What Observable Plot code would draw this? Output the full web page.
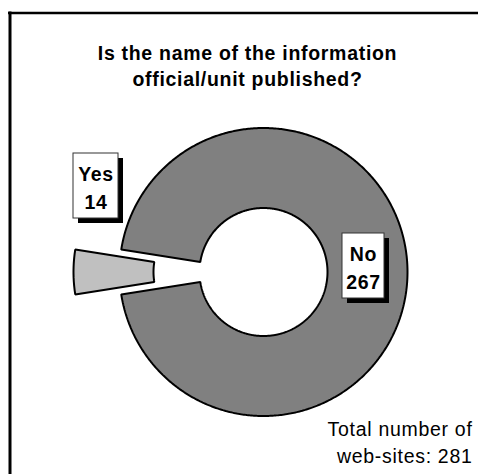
<!DOCTYPE html>
<html>
<head>
<meta charset="utf-8">
<script src="https://cdn.jsdelivr.net/npm/d3@7"></script>
<script src="https://cdn.jsdelivr.net/npm/@observablehq/plot@0.6"></script>
<style>
  html, body { margin: 0; padding: 0; background: white; overflow: hidden; }
  svg text { letter-spacing: 0.7px; }
</style>
</head>
<body>
<div id="chart"></div>
<script>
// ---- data ----
const categories = ["Yes", "No"];
const counts = [14, 267];
const total = 281;
const titleLines = ["Is the name of the information", "official/unit published?"];
const footerLines = ["Total number of", "web-sites: " + total];

// ---- layout (pixels) ----
const W = 478, H = 474;
const cx = 263, cy = 271.5, rOuter = 144, rInner = 64, explode = 46;
const fillColors = {Yes: "#c0c0c0", No: "#808080"};
const labelCenter = {Yes: [95.5, 185.5], No: [363, 265.5]};
const boxW = {Yes: 45, No: 42}, boxH = 65, shadow = 5;
const font = "Liberation Sans, Arial, Helvetica, sans-serif";
const fs = 19.5;

// build slice polygons from the counts (Yes centred at 9 o'clock)
const yesHalf = Math.PI * counts[0] / total;
const slices = [];
let a0 = Math.PI - yesHalf;
categories.forEach((c, i) => {
  const span = 2 * Math.PI * counts[i] / total;
  slices.push({cat: c, start: a0, end: a0 + span});
  a0 += span;
});
const polys = [];
for (const s of slices) {
  const mid = (s.start + s.end) / 2;
  const off = s.cat === "Yes" ? explode : 0;
  const ox = cx + off * Math.cos(mid), oy = cy - off * Math.sin(mid);
  const n = Math.max(8, Math.ceil((s.end - s.start) / 0.01));
  const pts = [];
  for (let k = 0; k <= n; k++) {
    const a = s.start + (s.end - s.start) * k / n;
    pts.push({cat: s.cat, x: ox + rOuter * Math.cos(a), y: oy - rOuter * Math.sin(a)});
  }
  for (let k = n; k >= 0; k--) {
    const a = s.start + (s.end - s.start) * k / n;
    pts.push({cat: s.cat, x: ox + rInner * Math.cos(a), y: oy - rInner * Math.sin(a)});
  }
  polys.push(pts);
}

const labels = categories.map((c, i) => {
  const [lx, ly] = labelCenter[c];
  return {cat: c, text: c + "\n" + counts[i], x: lx, y: ly,
          x1: lx - boxW[c] / 2, x2: lx + boxW[c] / 2, y1: ly - boxH / 2, y2: ly + boxH / 2};
});

const plot = Plot.plot({
  width: W, height: H,
  margin: 0,
  style: {fontFamily: font, background: "white"},
  x: {domain: [0, W], range: [0, W], axis: null},
  y: {domain: [0, H], range: [0, H], axis: null},
  marks: [
    Plot.ruleX([9.5], {y1: 11.5, y2: H, stroke: "black", strokeWidth: 3}),
    Plot.ruleY([12.5], {x1: 8, x2: W, stroke: "black", strokeWidth: 2.5}),
    Plot.text([titleLines.join("\n")], {x: 247, y: 64, text: d => d, fontSize: fs, fontWeight: "bold",
      lineHeight: 1.36, textAnchor: "middle", lineAnchor: "middle", fill: "black"}),
    ...polys.map(p => Plot.line(p, {x: "x", y: "y", curve: "linear-closed",
      fill: fillColors[p[0].cat], stroke: "black", strokeWidth: 2, strokeLinejoin: "miter"})),
    Plot.rect(labels, {x1: d => d.x1 + shadow, x2: d => d.x2 + shadow, y1: d => d.y1 + shadow, y2: d => d.y2 + shadow, fill: "black"}),
    Plot.rect(labels, {x1: "x1", x2: "x2", y1: "y1", y2: "y2", fill: "white", stroke: "#333", strokeWidth: 1}),
    Plot.text(labels, {x: "x", y: "y", text: "text", fontSize: fs, fontWeight: "bold",
      lineHeight: 1.44, lineAnchor: "middle", textAnchor: "middle", fill: "black"}),
    Plot.text([footerLines.join("\n")], {x: 472, y: 440, text: d => d, fontSize: fs,
      lineHeight: 1.38, textAnchor: "end", lineAnchor: "middle", fill: "black"})
  ]
});
document.getElementById("chart").appendChild(plot);
</script>
</body>
</html>
